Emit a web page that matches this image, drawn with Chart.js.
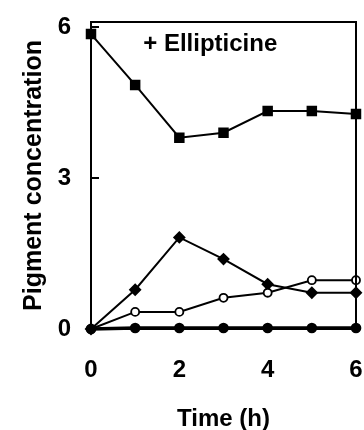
<!DOCTYPE html>
<html>
<head>
<meta charset="utf-8">
<script src="https://cdn.jsdelivr.net/npm/chart.js@4.4.0/dist/chart.umd.min.js"></script>
<style>
  html, body { margin: 0; padding: 0; background: #fff; }
  #wrap { width: 364px; height: 430px; }
</style>
</head>
<body>
<div id="wrap"><canvas id="chart"></canvas></div>
<script>
const hours = [0, 1, 2, 3, 4, 5, 6];
const squares = [5.86, 4.85, 3.80, 3.90, 4.33, 4.33, 4.27];
const diamonds = [0, 0.78, 1.82, 1.39, 0.89, 0.72, 0.72];
const openCircles = [0, 0.34, 0.34, 0.62, 0.72, 0.97, 0.97];
const baseline = [0, 0.02, 0.02, 0.02, 0.02, 0.02, 0.02];
const xTickLabels = [0, 2, 4, 6];
const yTickLabels = [0, 3, 6];
const label = '+ Ellipticine';

const FONT = '"Liberation Sans", Arial, sans-serif';

function pts(arr) {
    return hours.map((h, i) => ({x: h, y: arr[i]}));
}

// chart.js counts tick padding twice, so fix the axis boxes by hand
function fixBox(size) {
    return (s) => {
        if (s.isHorizontal()) s.height = size; else s.width = size;
        s.paddingLeft = s.paddingRight = s.paddingTop = s.paddingBottom = 0;
    };
}

// frame, inward ticks and the panel label
const framePlugin = {
    id: 'frame',
    afterDatasetsDraw(chart) {
        const {ctx, chartArea: a, scales: {x, y}} = chart;
        ctx.save();
        ctx.strokeStyle = '#000';
        ctx.lineWidth = 2;
        ctx.strokeRect(a.left, a.top, a.right - a.left, a.bottom - a.top);
        ctx.beginPath();
        hours.forEach((h) => {
            const px = x.getPixelForValue(h);
            ctx.moveTo(px, a.bottom);
            ctx.lineTo(px, a.bottom - 6);
        });
        yTickLabels.forEach((v) => {
            const py = y.getPixelForValue(v);
            ctx.moveTo(a.left, py);
            ctx.lineTo(a.left + 8, py);
        });
        ctx.stroke();
        ctx.fillStyle = '#000';
        ctx.font = 'bold 24px ' + FONT;
        ctx.textAlign = 'center';
        ctx.textBaseline = 'middle';
        ctx.fillText(label, x.getPixelForValue(2.7), y.getPixelForValue(5.66));
        ctx.restore();
    }
};

const common = {
    borderColor: '#000',
    backgroundColor: '#000',
    pointBorderColor: '#000',
    pointBackgroundColor: '#000',
    borderWidth: 2,
    tension: 0,
    clip: false
};

new Chart(document.getElementById('chart'), {
    type: 'line',
    data: {
        datasets: [
            {...common, label: 'baseline', data: pts(baseline), borderWidth: 3.5,
                pointStyle: 'circle', pointRadius: 3.6},
            {...common, label: 'open', data: pts(openCircles),
                pointStyle: 'circle', pointRadius: 4, pointBackgroundColor: '#fff',
                pointBorderWidth: 1.8},
            {...common, label: 'diamond', data: pts(diamonds),
                pointStyle: 'rectRot', pointRadius: 5},
            {...common, label: 'square', data: pts(squares),
                pointStyle: 'rect', pointRadius: 6}
        ]
    },
    options: {
        responsive: true,
        maintainAspectRatio: false,
        animation: false,
        layout: {padding: {top: 22, right: 7, left: 19, bottom: 0}},
        plugins: {
            legend: {display: false},
            tooltip: {enabled: false}
        },
        scales: {
            x: {
                type: 'linear',
                min: 0,
                max: 6,
                afterBuildTicks: (s) => { s.ticks = xTickLabels.map((v) => ({value: v})); },
                afterFit: fixBox(101),
                grid: {display: false, drawTicks: false},
                border: {display: false},
                ticks: {
                    color: '#000',
                    padding: 27,
                    maxRotation: 0,
                    font: {family: FONT, size: 24, weight: 'bold'}
                },
                title: {
                    display: true,
                    text: 'Time (h)',
                    color: '#000',
                    padding: {top: 19, bottom: -4},
                    font: {family: FONT, size: 24, weight: 'bold'}
                }
            },
            y: {
                type: 'linear',
                min: 0,
                max: 6.1,
                afterBuildTicks: (s) => { s.ticks = yTickLabels.map((v) => ({value: v})); },
                afterFit: fixBox(72),
                grid: {display: false, drawTicks: false},
                border: {display: false},
                ticks: {
                    color: '#000',
                    padding: 20,
                    font: {family: FONT, size: 24, weight: 'bold'}
                },
                title: {
                    display: true,
                    text: 'Pigment concentration',
                    color: '#000',
                    padding: {top: 0, bottom: 14},
                    font: {family: FONT, size: 25, weight: 'bold'}
                }
            }
        }
    },
    plugins: [framePlugin]
});
</script>
</body>
</html>
